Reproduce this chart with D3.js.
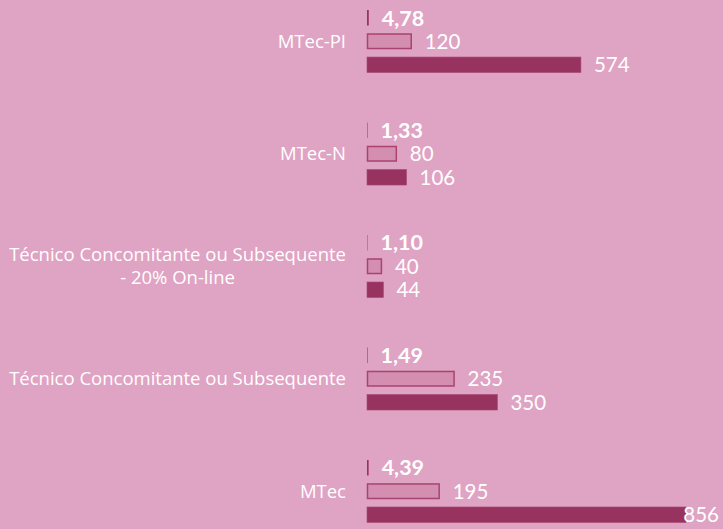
<!DOCTYPE html>
<html>
<head>
<meta charset="utf-8">
<script src="https://cdn.jsdelivr.net/npm/d3@7"></script>
<style>
  html, body { margin: 0; padding: 0; background: #dfa3c3; }
  svg { display: block; font-family: Lato, "Open Sans", sans-serif; }
</style>
</head>
<body>
<div id="chart"></div>
<script>
// Chart size
const w = 723;
const h = 529;

// Data, top to bottom
const categories = [
  "MTec-PI",
  "MTec-N",
  "Técnico Concomitante ou Subsequente\n- 20% On-line",
  "Técnico Concomitante ou Subsequente",
  "MTec"
];
const ratios = [4.78, 1.33, 1.10, 1.49, 4.39];
const seriesLight = [120, 80, 40, 235, 195];
const seriesDark = [574, 106, 44, 350, 856];

// Colours
const bgPink = "#dfa3c3";
const darkPlum = "#98325f";
const lightFill = "#d38eb0";
const lightStroke = "#a8446f";

const ptFormat = d3.formatLocale({decimal: ",", thousands: ".", grouping: [3], currency: ["", ""]}).format(".2f");

const svg = d3.select("#chart")
              .append("svg")
              .attr("width", w)
              .attr("height", h);

svg.append("rect")
   .attr("width", w)
   .attr("height", h)
   .attr("fill", bgPink);

// Scales
const xScale = d3.scaleLinear()
                 .domain([0, 856])
                 .range([367, 686]);

const yScale = d3.scaleBand()
                 .domain(categories)
                 .range([10, 522.5])
                 .paddingInner(0.444)
                 .paddingOuter(0);

const inner = d3.scaleBand()
                .domain(["ratio", "light", "dark"])
                .range([0, yScale.bandwidth()])
                .paddingInner(0.34)
                .paddingOuter(0);

const rows = categories.map(function (c, i) {
  return {cat: c, ratio: ratios[i], light: seriesLight[i], dark: seriesDark[i]};
});

const groups = svg.selectAll("g.group")
                  .data(rows)
                  .enter()
                  .append("g")
                  .attr("class", "group")
                  .attr("transform", d => "translate(0," + yScale(d.cat) + ")");

// Thin ratio bar
groups.append("rect")
      .attr("x", xScale(0))
      .attr("y", inner("ratio"))
      .attr("width", d => xScale(d.ratio) - xScale(0))
      .attr("height", inner.bandwidth())
      .attr("fill", darkPlum);

// Outlined light bar
groups.append("rect")
      .attr("x", xScale(0) + 0.5)
      .attr("y", inner("light") + 0.5)
      .attr("width", d => xScale(d.light) - xScale(0) - 1)
      .attr("height", inner.bandwidth() - 1)
      .attr("fill", lightFill)
      .attr("stroke", lightStroke)
      .attr("stroke-width", 1.5);

// Solid dark bar
groups.append("rect")
      .attr("x", xScale(0))
      .attr("y", inner("dark"))
      .attr("width", d => xScale(d.dark) - xScale(0))
      .attr("height", inner.bandwidth())
      .attr("fill", darkPlum)
      .attr("stroke", "#a84a73")
      .attr("stroke-width", 0.6);

// Value labels
function valueLabel(key, text, bold) {
  groups.append("text")
        .attr("x", d => xScale(d[key]) + 13)
        .attr("y", inner(key) + inner.bandwidth() / 2)
        .attr("dy", "0.36em")
        .attr("fill", "white")
        .style("font-size", bold ? "21.5px" : "20.5px")
        .style("font-weight", bold ? "bold" : "normal")
        .text(text)
        .each(function () {
          // keep the label inside the picture
          const tw = this.getComputedTextLength();
          const x = +this.getAttribute("x");
          if (x + tw > w - 4) this.setAttribute("x", w - 4 - tw);
        });
}
valueLabel("ratio", d => ptFormat(d.ratio), true);
valueLabel("light", d => d.light, false);
valueLabel("dark", d => d.dark, false);

// Category labels, right aligned, lines centred on each other
groups.each(function (d) {
  const lines = d.cat.split("\n");
  const g = d3.select(this);
  const cy = inner("light") + inner.bandwidth() / 2;
  const lh = 23;
  const texts = lines.map(function (line, i) {
    return g.append("text")
            .attr("y", cy + (i - (lines.length - 1) / 2) * lh)
            .attr("dy", "0.36em")
            .attr("fill", "white")
            .attr("text-anchor", "middle")
            .style("font-family", "'Open Sans', sans-serif")
            .style("font-size", "18.5px")
            .text(line);
  });
  const maxW = d3.max(texts, t => t.node().getComputedTextLength());
  texts.forEach(t => t.attr("x", 346 - maxW / 2));
});
</script>
</body>
</html>
